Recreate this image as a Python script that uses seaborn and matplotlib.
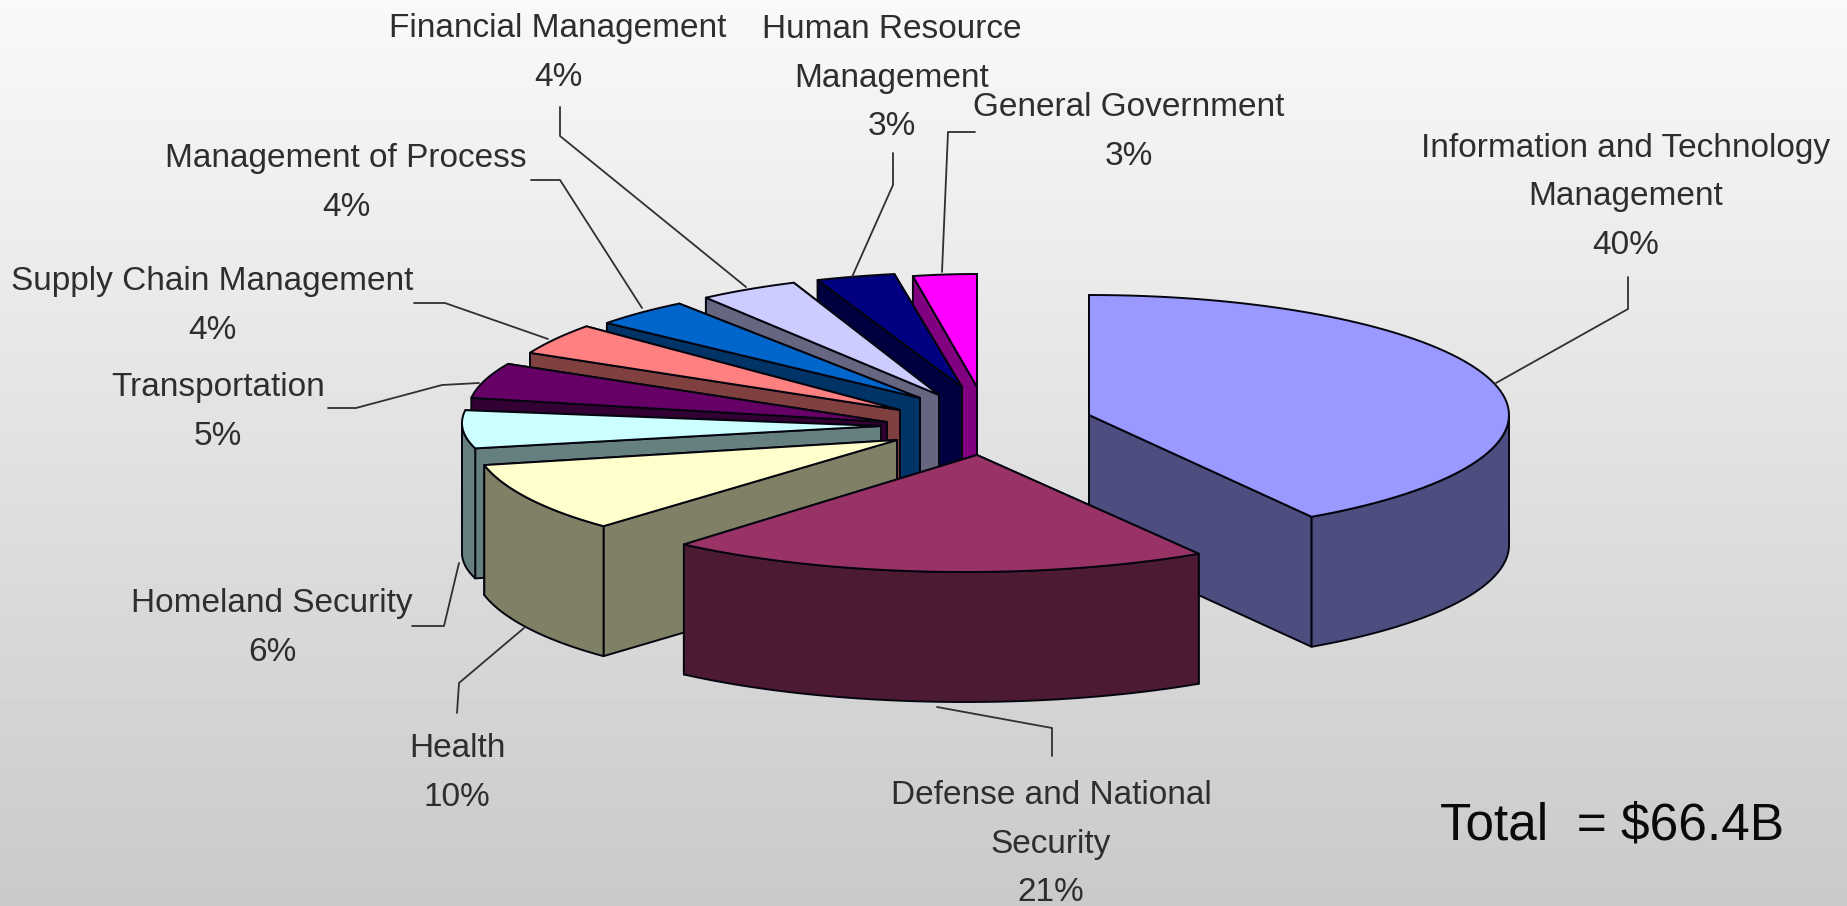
import numpy as np
import matplotlib
matplotlib.use("Agg")
import matplotlib.pyplot as plt
import seaborn as sns

# Federal IT spending breakdown
categories = [
    "Information and Technology\nManagement",
    "Defense and National\nSecurity",
    "Health",
    "Homeland Security",
    "Transportation",
    "Supply Chain Management",
    "Management of Process",
    "Financial Management",
    "Human Resource\nManagement",
    "General Government",
]
shares = [40, 21, 10, 6, 5, 4, 4, 4, 3, 3]
face_hex = ["#9999FF", "#993366", "#FFFFCC", "#CCFFFF", "#660066",
            "#FF8080", "#0066CC", "#CCCCFF", "#000080", "#FF00FF"]
total_label = "Total  = $66.4B"

# Exploded-pie layout, in pixels: ellipse centre x/y, radii a/b, apex x/y
layout = [
    (1089, 415, 420, 120, 1089, 415),
    (965, 452, 441, 120, 977, 455),
    (833, 436, 360, 117, 897, 440),
    (882, 423, 420, 102, 881, 426),
    (888, 412, 420, 113, 887, 422),
    (910, 406, 420, 125, 900, 410),
    (912, 395, 396, 113, 920, 398),
    (941, 398, 400, 124, 939, 395),
    (974, 387, 425, 115, 962, 387),
    (977, 392, 342, 118, 977, 387),
]
DEPTH = 130
draw_order = [9, 8, 7, 6, 5, 4, 3, 2, 0, 1]

label_centres = [
    (1626, 197), (1051, 844), (457, 773), (272, 628), (218, 412),
    (212, 306), (346, 183), (558, 53), (892, 78), (1129, 132),
]

leaders = [
    [(1628, 277), (1628, 309), (1496, 383)],
    [(937, 707), (1052, 728), (1052, 756)],
    [(524, 628), (459, 683), (457, 713)],
    [(412, 626), (444, 626), (459, 563)],
    [(328, 408), (356, 408), (442, 385), (479, 383)],
    [(414, 303), (445, 303), (548, 339)],
    [(531, 180), (560, 180), (642, 308)],
    [(560, 107), (560, 136), (746, 287)],
    [(893, 153), (893, 185), (852, 277)],
    [(975, 132), (948, 132), (942, 272)],
]

sns.set_theme(style="white")
plt.rcParams["font.family"] = ["Liberation Sans", "DejaVu Sans"]
palette = sns.color_palette(face_hex)

fig = plt.figure(figsize=(18.47, 9.06), dpi=100)
ax = fig.add_axes([0, 0, 1, 1])

# Slide background: light at the top, fading to mid grey at the foot
shade = np.linspace(0.975, 0.79, 256).reshape(-1, 1)
ax.imshow(shade, cmap="gray", vmin=0, vmax=1, aspect="auto",
          extent=(0, 1847, 906, 0), zorder=0)


def warp(theta):
    """Foreshortening of the front-right quadrant of the tilted pie."""
    return theta + 6.8 * max(0.0, np.sin(np.radians(theta)))


def rim(cx, cy, a, b, t0, t1):
    t = np.radians(np.linspace(t0, t1, 80))
    return np.column_stack([cx + a * np.sin(t), cy - b * np.cos(t)])


def fill(points, colour, z):
    ax.fill(points[:, 0], points[:, 1], facecolor=colour, edgecolor="#050510",
            linewidth=1.4, joinstyle="round", zorder=z)


boundaries = np.cumsum([0] + shares) * 3.6
z = 2
for i in draw_order:
    cx, cy, a, b, ax_x, ax_y = layout[i]
    t0, t1 = warp(boundaries[i]), warp(boundaries[i + 1])
    arc = rim(cx, cy, a, b, t0, t1)
    apex = np.array([[ax_x, ax_y]])
    drop = np.array([0, DEPTH])
    side = tuple(0.5 * c for c in palette[i])

    # radial walls: the one further back goes first
    ends = sorted([arc[0], arc[-1]], key=lambda p: p[1])
    for end in ends:
        wall = np.vstack([apex, [end], [end + drop], apex + drop])
        fill(wall, side, z)
        z += 1
    # only the front half of the curved wall faces the viewer
    front0, front1 = max(t0, 90.0), min(t1, 270.0)
    if front1 > front0:
        front = rim(cx, cy, a, b, front0, front1)
        fill(np.vstack([front, (front + drop)[::-1]]), side, z)
        z += 1
    fill(np.vstack([apex, arc]), palette[i], z)
    z += 1

# Leader lines from each slice to its caption
for path in leaders:
    xs, ys = zip(*path)
    sns.lineplot(x=list(xs), y=list(ys), sort=False, estimator=None,
                 color="#303030", linewidth=1.3, ax=ax, legend=False, zorder=z)

# Captions
for name, pct, (x, y) in zip(categories, shares, label_centres):
    ax.text(x, y, f"{name}\n{pct}%", ha="center", va="center", fontsize=24,
            color="#2e2e2e", linespacing=1.72, zorder=z + 1)

ax.text(1612, 826, total_label, ha="center", va="center", fontsize=37,
        color="#0a0a0a", zorder=z + 1)

ax.set_xlim(0, 1847)
ax.set_ylim(906, 0)
ax.set_axis_off()
fig.savefig("out.png", dpi=100)
